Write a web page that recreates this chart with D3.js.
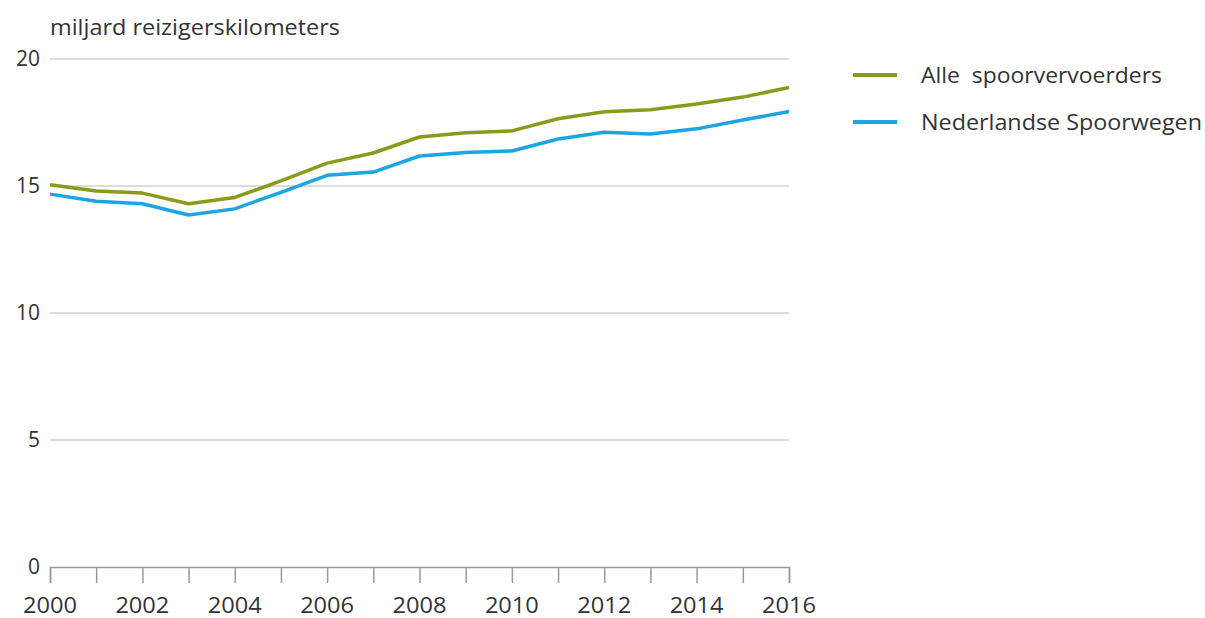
<!DOCTYPE html>
<html>
<head>
<meta charset="utf-8">
<script src="https://cdn.jsdelivr.net/npm/d3@7"></script>
<style>
  body { margin: 0; background: #fff; }
  text { font-family: "Open Sans", "Noto Sans", sans-serif; fill: #333; }
</style>
</head>
<body>
<svg id="chart" width="1205" height="618"></svg>
<script>
// years and values (miljard reizigerskilometers)
const years = d3.range(2000, 2017);
const alle = [15.05, 14.8, 14.72, 14.3, 14.55, 15.2, 15.9, 16.3, 16.93, 17.1, 17.17, 17.65, 17.92, 18.0, 18.23, 18.5, 18.88];
const ns = [14.68, 14.4, 14.3, 13.86, 14.1, 14.75, 15.42, 15.55, 16.18, 16.32, 16.38, 16.85, 17.12, 17.05, 17.25, 17.6, 17.93];
const yTicks = [0, 5, 10, 15, 20];
const xTickLabels = [2000, 2002, 2004, 2006, 2008, 2010, 2012, 2014, 2016];
const seriesNames = ['Alle  spoorvervoerders', 'Nederlandse Spoorwegen'];
const colors = ['#8b9a1b', '#1ca5e3'];

const svg = d3.select('#chart');
const plot = {left: 50, right: 789, top: 59, bottom: 567};

let x = d3.scaleLinear().domain([2000, 2016]).range([plot.left, plot.right]);
let y = d3.scaleLinear().domain([0, 20]).range([plot.bottom, plot.top]);

// gridlines
svg.append('g')
  .selectAll('line')
  .data(yTicks.filter(d => d > 0))
  .enter()
  .append('line')
  .attr('x1', plot.left)
  .attr('x2', plot.right)
  .attr('y1', d => y(d))
  .attr('y2', d => y(d))
  .attr('stroke', '#dcdcdc')
  .attr('stroke-width', 2);

// y labels
svg.append('g')
  .selectAll('text')
  .data(yTicks)
  .enter()
  .append('text')
  .attr('x', 40)
  .attr('y', d => y(d) + 7)
  .attr('text-anchor', 'end')
  .attr('font-size', 21)
  .text(d => d);

// x axis
let xAxis = svg.append('g')
  .attr('transform', 'translate(0,' + plot.bottom + ')')
  .call(d3.axisBottom(x).tickValues(years).tickSize(16).tickFormat(''));
xAxis.select('.domain').attr('stroke', '#999').attr('stroke-width', 1.5);
xAxis.selectAll('.tick line').attr('stroke', '#999').attr('stroke-width', 1.5);

svg.append('g')
  .selectAll('text')
  .data(xTickLabels)
  .enter()
  .append('text')
  .attr('x', d => x(d))
  .attr('y', 613)
  .attr('text-anchor', 'middle')
  .attr('font-size', 21)
  .attr('textLength', 54)
  .attr('lengthAdjust', 'spacingAndGlyphs')
  .text(d => d);

// title
svg.append('text')
  .attr('x', 50)
  .attr('y', 35)
  .attr('font-size', 21)
  .attr('textLength', 290)
  .attr('lengthAdjust', 'spacingAndGlyphs')
  .text('miljard reizigerskilometers');

// lines
let line = d3.line()
  .x((d, i) => x(years[i]))
  .y(d => y(d));

[alle, ns].forEach((s, i) => {
  svg.append('path')
    .datum(s)
    .attr('d', line)
    .attr('fill', 'none')
    .attr('stroke', colors[i])
    .attr('stroke-width', 3.5)
    .attr('stroke-linejoin', 'round');
});

// legend
const legendWidths = [241, 281];
let legend = svg.append('g')
  .selectAll('g')
  .data(seriesNames)
  .enter()
  .append('g')
  .attr('transform', (d, i) => 'translate(853,' + (75 + i * 47) + ')');

legend.append('line')
  .attr('x1', 0)
  .attr('x2', 44)
  .attr('stroke', (d, i) => colors[i])
  .attr('stroke-width', 4);

legend.append('text')
  .attr('x', 68)
  .attr('y', 8)
  .attr('font-size', 22)
  .attr('textLength', (d, i) => legendWidths[i])
  .attr('lengthAdjust', 'spacingAndGlyphs')
  .style('white-space', 'pre')
  .text(d => d);
</script>
</body>
</html>
